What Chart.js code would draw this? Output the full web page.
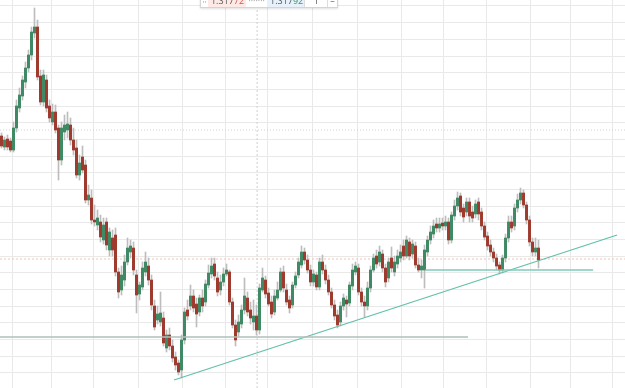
<!DOCTYPE html>
<html>
<head>
<meta charset="utf-8">
<script src="https://cdn.jsdelivr.net/npm/chart.js@4.4.0/dist/chart.umd.min.js"></script>
<style>
  body { margin: 0; background: #fff; }
  #wrap { position: relative; width: 625px; height: 388px; overflow: hidden; }
  #toolbar {
    position: absolute; left: 200px; top: -6px; height: 12px; width: 136px;
    background: #fff; border: 1px solid #d4d4d4; box-shadow: 0 1px 2px rgba(0,0,0,0.12);
    font: 9px "Open Sans", sans-serif; line-height: 12px; display: flex; color: #555;
  }
  #toolbar span { display: block; height: 12px; white-space: nowrap; overflow: hidden; }
  .grip { width: 7px; color: #aaa; font-size: 7px; text-align: center; }
  .sell { width: 39px; background: #fdeae6; padding-left: 3px; box-sizing: border-box; }
  .mid { width: 21px; color: #999; text-align: center; }
  .buy { width: 38px; background: #e7f1fb; padding-left: 3px; box-sizing: border-box; }
  .qty { width: 22px; text-align: center; border-left: 1px solid #ddd; }
  .close { width: 9px; color: #d9342b; text-align: center; border-left: 1px solid #ddd; }
</style>
</head>
<body>
<div id="wrap">
  <canvas id="chart"></canvas>
  <div id="toolbar">
    <span class="grip">⁞⁞</span>
    <span class="sell">1.317<b style="color:#d9534f;font-weight:normal">72</b></span>
    <span class="mid">·······</span>
    <span class="buy">1.317<b style="color:#2e9a63;font-weight:normal">92</b></span>
    <span class="qty">1</span>
    <span class="close">–</span>
  </div>
</div>
<script>
// candles, price in chart units
const opens = [252,241,249,247,238,260,280,292,306,320,333,355,361,312,286,308,282,266,276,260,
  228,256,258,263,248,240,213,231,223,188,190,168,163,166,148,166,138,150,153,116,
  98,108,126,136,140,113,94,101,116,122,108,82,68,66,70,40,53,42,31,25,
  18,48,78,82,92,84,76,90,86,103,114,124,110,98,106,114,116,86,63,56,
  64,78,90,78,66,72,58,98,108,95,86,76,90,98,116,98,88,83,103,113,
  123,136,128,118,106,113,101,126,118,108,96,83,73,66,82,88,85,102,116,120,
  96,86,82,100,118,132,126,134,120,110,130,116,124,130,142,132,146,134,142,123,
  118,118,136,148,154,164,160,165,162,166,148,172,182,192,180,176,186,176,174,186,
  176,162,152,143,136,130,123,118,130,150,166,162,180,188,195,183,168,146,136,140];
const highs = [255,251,253,250,266,288,300,312,326,338,361,380,368,318,318,313,288,284,283,263,
  266,273,276,270,260,248,233,242,228,203,198,183,178,173,170,170,160,158,160,120,
  122,133,150,148,146,118,106,126,136,130,113,88,82,96,76,58,60,48,36,28,
  53,80,88,103,98,90,93,98,108,123,130,130,116,113,120,124,118,90,68,73,
  83,110,96,86,88,83,104,120,112,100,92,98,106,120,122,104,92,106,116,130,
  142,140,133,123,118,116,130,133,123,113,100,88,78,86,94,92,106,124,126,124,
  100,92,106,122,134,138,142,138,124,130,141,132,138,143,148,152,150,148,146,130,
  128,143,152,162,168,170,170,170,172,170,176,188,196,195,184,190,190,182,188,190,
  180,166,156,148,140,134,126,133,154,172,172,184,194,200,198,186,172,150,150,148];
const lows = [240,238,238,236,236,256,276,288,300,316,328,350,308,283,282,276,266,263,255,208,
  223,248,250,243,233,210,208,215,185,183,164,162,158,146,144,138,132,132,112,90,
  93,102,123,130,113,75,88,98,112,103,78,58,64,62,42,36,38,26,18,13,
  10,44,68,78,76,61,72,76,82,100,110,108,92,93,102,112,83,60,42,52,
  60,74,72,64,58,53,54,96,90,82,70,73,88,96,96,83,75,80,100,110,
  120,124,115,102,102,98,98,114,104,93,80,68,60,62,78,71,82,98,113,93,
  82,71,78,96,116,120,122,116,101,106,116,112,120,126,128,130,128,130,120,116,
  110,100,132,144,150,156,156,158,158,144,145,168,178,172,166,172,166,166,170,168,
  158,148,138,132,126,118,114,115,126,146,156,158,176,184,180,164,142,132,132,120];
const closes = [242,248,241,238,260,282,293,308,320,333,356,361,311,286,313,280,270,276,258,228,
  260,263,264,248,238,213,225,218,188,193,168,166,170,151,163,143,156,138,116,96,
  113,126,140,142,118,93,103,120,126,108,83,61,74,75,45,53,42,30,23,16,
  48,76,72,92,80,74,90,82,104,115,122,112,96,106,114,118,86,63,48,66,
  78,92,76,70,72,58,100,110,94,84,74,92,98,116,100,86,80,103,112,126,
  136,128,118,106,114,101,126,118,108,96,83,72,63,82,90,84,103,118,122,96,
  86,82,100,118,130,124,136,120,106,126,120,126,132,136,132,148,132,144,123,118,
  122,138,148,156,162,160,164,162,166,148,173,182,190,176,171,186,172,170,184,174,
  162,151,142,136,130,122,118,130,150,166,160,180,188,195,183,168,146,136,140,128];

// time axis slots (candles plus empty space on the right) and grid ticks
const slotMin = -0.5;
const slotMax = 207.83;
const timeTicks = [3.8, 16.8, 30.5, 45.8, 60.2, 74.5, 88.8, 103.5, 118.5, 133.2, 147.2, 161.5, 176.2, 189.5, 203.5];
const priceTicks = [15.3, 32, 48.7, 65.3, 82, 98.7, 115.3, 132, 148.7, 165.3, 182, 198.7, 215.3, 232, 248.7, 265.3, 282, 298.7, 315.3, 332, 348.7, 365.3, 382];

// drawings on the chart
const trendLine = [{ x: 57.5, y: 8 }, { x: 205.2, y: 153 }];
const supportLine = [{ x: 141.2, y: 118 }, { x: 197.2, y: 118 }];
const lowLine = [{ x: -0.5, y: 51 }, { x: 155.5, y: 51 }];
const askLine = [{ x: -0.5, y: 129 }, { x: 207.83, y: 129 }];
const oldLevel = [{ x: -0.5, y: 258 }, { x: 207.83, y: 258 }];
const cursorLine = [{ x: 85.2, y: 0 }, { x: 85.2, y: 388 }];

const wickData = opens.map((o, i) => ({ x: i, y: [lows[i], highs[i]] }));
const bodyData = opens.map((o, i) => ({ x: i, y: [o, closes[i]] }));
const bodyColors = opens.map((o, i) => closes[i] >= o ? "#3f8a64" : "#9e3a2e");

function lineSet(data, color, width, dash, order) {
    return {
        type: "line",
        data: data,
        borderColor: color,
        borderWidth: width,
        borderDash: dash,
        pointRadius: 0,
        fill: false,
        order: order
    };
}

const chart_el = document.getElementById("chart");

new Chart(chart_el, {
    type: "bar",
    data: {
        datasets: [
            lineSet(oldLevel, "#d2d2d2", 1, [1, 2], 5),
            lineSet(askLine, "#f3c3b5", 1, [2, 2], 5),
            lineSet(cursorLine, "#cfcfcf", 1, [2, 2], 5),
            {
                data: wickData,
                backgroundColor: "#bdbdbd",
                barThickness: 1,
                grouped: false,
                order: 4
            },
            {
                data: bodyData,
                backgroundColor: bodyColors,
                barThickness: 2.3,
                minBarLength: 1,
                grouped: false,
                order: 3
            },
            lineSet(lowLine, "#aebfba", 1.3, [], 1),
            lineSet(supportLine, "#7fcbb8", 1.3, [], 1),
            lineSet(trendLine, "#62c0aa", 1.3, [], 1)
        ]
    },
    options: {
        responsive: true,
        maintainAspectRatio: false,
        animation: false,
        layout: { padding: 0 },
        plugins: {
            legend: { display: false },
            tooltip: { enabled: false }
        },
        scales: {
            x: {
                type: "linear",
                min: slotMin,
                max: slotMax,
                offset: false,
                grid: { color: "#e9e9e9", drawTicks: false, offset: false },
                border: { display: false },
                ticks: { display: false },
                afterBuildTicks: (s) => { s.ticks = timeTicks.map(v => ({ value: v })); }
            },
            y: {
                type: "linear",
                min: 0,
                max: 388,
                grid: { color: "#e9e9e9", drawTicks: false },
                border: { display: false },
                ticks: { display: false },
                afterBuildTicks: (s) => { s.ticks = priceTicks.map(v => ({ value: v })); }
            }
        }
    }
});
</script>
</body>
</html>
